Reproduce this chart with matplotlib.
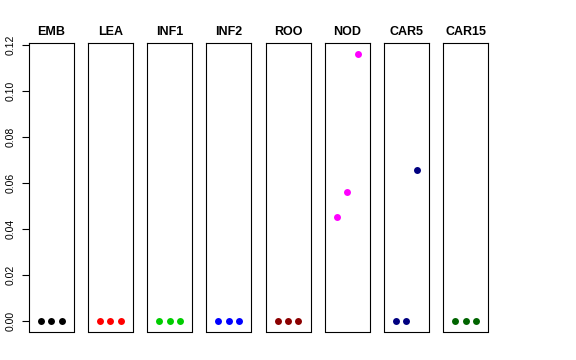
import matplotlib
matplotlib.use("Agg")
import matplotlib.pyplot as plt

plt.rcParams['font.family'] = ['Liberation Sans', 'DejaVu Sans']

# tissues and their replicate values
tissues = ["EMB", "LEA", "INF1", "INF2", "ROO", "NOD", "CAR5", "CAR15"]
colors = ["black", "red", "#00CD00", "blue", "#8B0000", "magenta", "#000080", "#006400"]
reps = [1, 2, 3]
emb = [0, 0, 0]
lea = [0, 0, 0]
inf1 = [0, 0, 0]
inf2 = [0, 0, 0]
roo = [0, 0, 0]
nod = [0.0453, 0.0562, 0.1161]
car5 = [0, 0, 0.0657]
car15 = [0, 0, 0]
values = [emb, lea, inf1, inf2, roo, nod, car5, car15]
yticks = [0.00, 0.02, 0.04, 0.06, 0.08, 0.10, 0.12]

W, H = 576, 360
fig = plt.figure(figsize=(5.76, 3.6), dpi=100)

ymax = max(max(v) for v in values)
for i, (name, col, vals) in enumerate(zip(tissues, colors, values)):
    left = 28.7 + i * 59.2
    ax = fig.add_axes([left / W, 1 - 331.5 / H, 45 / W, (331.5 - 43) / H])
    ax.plot(reps, vals, 'o', color=col, markersize=5, markeredgewidth=0)
    ax.set_xlim(-0.16, 4.16)
    ax.set_ylim(-0.04 * ymax, 1.04 * ymax)
    ax.set_xticks([])
    ax.set_title(name, fontsize=9, fontweight='bold', pad=6)
    for s in ax.spines.values():
        s.set_linewidth(0.8)
    if i == 0:
        ax.set_yticks(yticks)
        ax.set_yticklabels(["%.2f" % t for t in yticks], rotation=90, va='center', fontsize=7.5)
        ax.tick_params(axis='y', length=5, width=0.8, pad=4.5)
    else:
        ax.set_yticks([])

fig.savefig("out.png", dpi=100)
